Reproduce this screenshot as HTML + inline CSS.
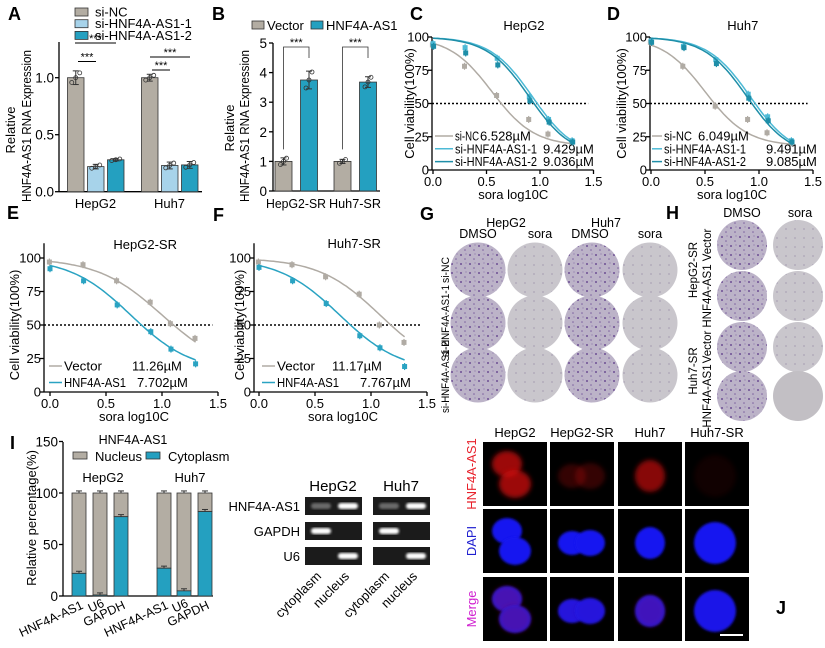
<!DOCTYPE html>
<html><head><meta charset="utf-8"><style>
html,body{margin:0;padding:0;background:#fff;}
svg{display:block;font-family:"Liberation Sans",Arial,sans-serif;}
</style></head><body>
<svg id="fig" width="825" height="648" viewBox="0 0 825 648" xmlns="http://www.w3.org/2000/svg">
<defs>
<filter id="blur3" x="-50%" y="-50%" width="200%" height="200%"><feGaussianBlur stdDeviation="2.5"/></filter>
<filter id="blur1"><feGaussianBlur stdDeviation="1.2"/></filter>
<pattern id="speck" width="9" height="9" patternUnits="userSpaceOnUse"><rect width="9" height="9" fill="#bcb3c8"/><circle cx="2" cy="3" r="1" fill="#6d4f93"/><circle cx="6" cy="7" r="0.8" fill="#7d62a0"/><circle cx="7" cy="2" r="0.6" fill="#8a74a8"/></pattern>
<pattern id="speck2" width="9" height="9" patternUnits="userSpaceOnUse"><rect width="9" height="9" fill="#c9c6cc"/><circle cx="3" cy="4" r="0.6" fill="#8d80a0"/></pattern>
</defs>
</svg>
<script>
// ---------- data ----------
const aGroups = ["HepG2","Huh7"];
const aSeries = ["si-NC","si-HNF4A-AS1-1","si-HNF4A-AS1-2"];
const aValues = [[1.0,0.22,0.28],[1.0,0.23,0.235]];
const aErr = [[0.06,0.02,0.01],[0.03,0.03,0.03]];
const aTicks = [0.0,0.5,1.0];

const bGroups = ["HepG2-SR","Huh7-SR"];
const bSeries = ["Vector","HNF4A-AS1"];
const bValues = [[1.0,3.75],[1.0,3.68]];
const bErr = [[0.12,0.3],[0.07,0.18]];
const bTicks = [0,1,2,3,4,5];

const doseX = [0,0.3,0.6,0.9,1.08,1.3];
const cGray = [94,78,56,38,27,21];
const cSi1 = [95,92,84,55,38,22];
const cSi2 = [93,88,79,52,36,21];
const dGray = [96,78,48,38,28,20];
const dSi1 = [97,93,83,57,40,22];
const dSi2 = [96,92,80,54,37,21];
const eVector = [97,95,83,67,51,40];
const eHNF = [92,83,65,45,32,21];
const fVector = [97,95,86,73,50,37];
const fHNF = [93,83,66,42,33,19];
const vTicks = [0,25,50,75,100];
const xTicks = [0.0,0.5,1.0,1.5];

const iCats = ["HNF4A-AS1","U6","GAPDH","HNF4A-AS1","U6","GAPDH"];
const iCyto = [22,1,77,27,5,82];
const iTicks = [0,50,100,150];

const S = document.getElementById('fig');
const NS = "http://www.w3.org/2000/svg";
const GRAY="#b3ada3", LBLUE="#a7d3ea", TEAL="#24a0c0";
function mk(tag, attrs, txt){const e=document.createElementNS(NS,tag);for(const k in attrs)e.setAttribute(k,attrs[k]);if(txt!==undefined)e.textContent=txt;S.appendChild(e);return e;}
function line(x1,y1,x2,y2,c,w,dash){return mk('line',{x1,y1,x2,y2,stroke:c||'#000','stroke-width':w||1.3,'stroke-dasharray':dash||'none'});}
function text(x,y,s,size,anchor,extra){const a={x,y,'font-size':size||12,'text-anchor':anchor||'start',fill:'#000'};if(extra)for(const k in extra)a[k]=extra[k];return mk('text',a,s);}
function fmt(v,d){return v.toFixed(d);}

[["A",8,20],["B",212,20],["C",410,20],["D",607,20],["E",7,219],["F",213,221],["G",420,220],["H",666,219],["I",10,449],["J",776,614]].forEach(p=>{
  const t=text(p[1],p[2],p[0],18,'start',{'font-weight':'bold'});
  
  
});

// ---------- Panel A ----------
(function(){
  const yA=v=>191.7-v*114, ax=59;
  let l=line(ax,42,ax,192);  
  l=line(ax,191.7,202,191.7);  
  aTicks.forEach(t=>{line(ax-4,yA(t),ax,yA(t));const tt=text(ax-5,yA(t)+5,fmt(t,1),13.5,'end');});
  const cols=[GRAY,LBLUE,TEAL];
  const starts=[67.5,141.5];
  aGroups.forEach((g,gi)=>{
    aSeries.forEach((s,si)=>{
      const x=starts[gi]+si*20, v=aValues[gi][si], w=16.5;
      const r=mk('rect',{x,y:yA(v),width:w,height:yA(0)-yA(v),fill:cols[si],stroke:'#333','stroke-width':0.8});
      
      
      const cx=x+w/2,e=aErr[gi][si];
      line(cx,yA(v+e),cx,yA(v-e),'#333',1);line(cx-3,yA(v+e),cx+3,yA(v+e),'#333',1);line(cx-3,yA(v-e),cx+3,yA(v-e),'#333',1);
      [-4,0,4].forEach((dx,k)=>mk('circle',{cx:cx+dx,cy:yA(v+(k-1)*e*0.7),r:2,fill:'none',stroke:'#333','stroke-width':0.8}));
    });
    const gt=text(starts[gi]+28,208,g,13,'middle');
  });
  [[75,116,43],[78,96,61.5],[150,190,57],[152,170,70]].forEach(s=>{line(s[0],s[2],s[1],s[2],'#000',1);const t=text((s[0]+s[1])/2,s[2]-1,'***',11,'middle');});
  const yt=text(0,0,'Relative',13,'middle',{transform:'translate(15,130) rotate(-90)'});
  const yt2=text(0,0,'HNF4A-AS1 RNA Expression',13,'middle',{transform:'translate(31,126) rotate(-90)',textLength:152,lengthAdjust:'spacingAndGlyphs'});
  aSeries.forEach((s,si)=>{const y=12+si*11.7;const r=mk('rect',{x:75,y:y-4,width:13,height:8,fill:cols[si],stroke:'#333','stroke-width':0.8});const t=text(95,y+4.5,s,13);});
})();

// ---------- Panel B ----------
(function(){
  const yB=v=>191-v*29.6, ax=273;
  let l=line(ax,43,ax,191.5);
  l=line(ax,191,380,191);
  bTicks.forEach(t=>{line(ax-4,yB(t),ax,yB(t));const tt=text(ax-6,yB(t)+5,String(t),13.5,'end');});
  const cols=[GRAY,TEAL],starts=[275,334];
  bGroups.forEach((g,gi)=>{
    bSeries.forEach((s,si)=>{
      const x=starts[gi]+si*25.5,v=bValues[gi][si],w=17;
      const r=mk('rect',{x,y:yB(v),width:w,height:yB(0)-yB(v),fill:cols[si],stroke:'#333','stroke-width':0.8});
      
      
      const cx=x+w/2,e=bErr[gi][si];
      line(cx,yB(v+e),cx,yB(v-e),'#333',1);line(cx-3,yB(v+e),cx+3,yB(v+e),'#333',1);line(cx-3,yB(v-e),cx+3,yB(v-e),'#333',1);
      [-3,0,3].forEach((dx,k)=>mk('circle',{cx:cx+dx,cy:yB(v+(k-1)*e*0.9),r:2,fill:'none',stroke:'#333','stroke-width':0.8}));
    });
    const x1=starts[gi]+8.5,x2=starts[gi]+34;
    const br=mk('path',{d:`M${x1},${yB(bValues[gi][0])-12}V47H${x2}V58`,fill:'none',stroke:'#333','stroke-width':0.8});
    const st=text((x1+x2)/2,46,'***',11,'middle');
    const gt=text(starts[gi]+21,208,g,13,'middle',{textLength:gi?52:60,lengthAdjust:'spacingAndGlyphs'});
  });
  const yt=text(0,0,'Relative',13,'middle',{transform:'translate(234,128) rotate(-90)'});
  const yt2=text(0,0,'HNF4A-AS1 RNA Expression',13,'middle',{transform:'translate(249,126) rotate(-90)',textLength:152,lengthAdjust:'spacingAndGlyphs'});
  [[252,'Vector',GRAY],[311,'HNF4A-AS1',TEAL]].forEach(p=>{const r=mk('rect',{x:p[0],y:21,width:12,height:8,fill:p[2],stroke:'#333','stroke-width':0.8});const t=text(p[0]+15,30,p[1],13);});
})();

// ---------- dose-response panels ----------
function curvePanel(o){
  const X=v=>o.x0+v*o.unit, Y=v=>o.y0-(o.y0-o.y100)*v/100;
  let l=line(o.ax,Y(o.ymax),o.ax,o.y0+0.5);
  l=line(o.ax,o.y0,X(1.5),o.y0);
  vTicks.forEach(t=>{line(o.ax-4,Y(t),o.ax,Y(t));const tt=text(o.ax-3,Y(t)+4.5,String(t),13,'end');});
  xTicks.forEach(t=>{line(X(t),o.y0,X(t),o.y0+4);const tt=text(X(t),o.y0+16,fmt(t,1),13,'middle');});
  const dl=line(o.ax,Y(50),X(1.45),Y(50),'#000',1.6,'2,2');
  const tt=text(X(0.85),o.titleY,o.title,13,'middle');
  const xt=text(X(0.75),o.y0+29,'sora  log10C',13,'middle');
  const yt=text(0,0,'Cell viability(100%)',13,'middle',{transform:`translate(${o.yTitleX},${Y(50)}) rotate(-90)`});
  o.series.forEach((s,si)=>{
    let d='';for(let i=0;i<=60;i++){const xv=1.3*i/60;const yv=s.bot+(100-s.bot)/(1+Math.pow(10,(xv-s.x50)*s.h));d+=(i?'L':'M')+X(xv).toFixed(1)+','+Y(yv).toFixed(1);}
    const p=mk('path',{d,fill:'none',stroke:s.c,'stroke-width':1.5});
    s.vals.forEach((v,i)=>{
      const cx=X(doseX[i])+(si-1)*0.6, cy=Y(v);
      line(cx,cy-3.5,cx,cy+3.5,s.c,1.2);
      const m=mk('rect',{x:cx-2.5,y:cy-2.5,width:5,height:5,fill:s.c});
    });
    const ly=o.legY+si*o.legDy;
    line(o.legX,ly,o.legX+o.legW,ly,s.c,1.5);
    const lt=text(o.legX+o.legW+2,ly+4.5,s.name,13,'start',{textLength:s.tl,lengthAdjust:'spacingAndGlyphs'});
    const lv=text(s.vx,ly+4.5,s.ic,13);
  });
}
curvePanel({id:'c',ax:432,x0:433,unit:107,y0:170,y100:37,ymax:100,title:'HepG2',titleY:30,yTitleX:414,legX:435,legW:18,legY:136,legDy:12.8,
  series:[{name:'si-NC',tl:24,ic:'6.528\u00b5M',vx:480,vals:cGray,c:'#b0aba4',x50:0.55,h:2.2,bot:18},
          {name:'si-HNF4A-AS1-1',tl:82,ic:'9.429\u00b5M',vx:543,vals:cSi1,c:'#4dbad6',x50:0.93,h:2.2,bot:10},
          {name:'si-HNF4A-AS1-2',tl:82,ic:'9.036\u00b5M',vx:543,vals:cSi2,c:'#1e8ea8',x50:0.9,h:2.2,bot:10}]});
curvePanel({id:'d',ax:650,x0:651,unit:108,y0:170,y100:37,ymax:100,title:'Huh7',titleY:30,yTitleX:626,legX:652,legW:10,legY:136,legDy:12.8,
  series:[{name:'si-NC',tl:28,ic:'6.049\u00b5M',vx:698,vals:dGray,c:'#b0aba4',x50:0.5,h:2.2,bot:18},
          {name:'si-HNF4A-AS1-1',tl:82,ic:'9.491\u00b5M',vx:766,vals:dSi1,c:'#4dbad6',x50:0.92,h:2.2,bot:10},
          {name:'si-HNF4A-AS1-2',tl:82,ic:'9.085\u00b5M',vx:766,vals:dSi2,c:'#1e8ea8',x50:0.89,h:2.2,bot:10}]});
curvePanel({id:'e',ax:44,x0:50,unit:112,y0:392,y100:258,ymax:111,title:'HepG2-SR',titleY:249,yTitleX:19,legX:49,legW:13,legY:366,legDy:16.5,
  series:[{name:'Vector',tl:38,ic:'11.26\u00b5M',vx:132,vals:eVector,c:'#b0aba4',x50:1.0,h:1.5,bot:15},
          {name:'HNF4A-AS1',tl:62,ic:'7.702\u00b5M',vx:137,vals:eHNF,c:'#2aa3c2',x50:0.72,h:1.6,bot:15}]});
curvePanel({id:'f',ax:254,x0:259,unit:112,y0:392,y100:258,ymax:111,title:'Huh7-SR',titleY:248,yTitleX:244,legX:262,legW:13,legY:366,legDy:16.5,
  series:[{name:'Vector',tl:38,ic:'11.17\u00b5M',vx:332,vals:fVector,c:'#b0aba4',x50:1.08,h:1.6,bot:15},
          {name:'HNF4A-AS1',tl:62,ic:'7.767\u00b5M',vx:360,vals:fHNF,c:'#2aa3c2',x50:0.72,h:1.6,bot:15}]});

// ---------- Panel G ----------
(function(){
  const gx=[478,535,592,650], gy=[270,323,375];
  gy.forEach((y,ri)=>gx.forEach((x,ci)=>{
    const dmso=ci%2==0;
    const c=mk('circle',{cx:x,cy:y,r:27.5,fill:dmso?'url(#speck)':'url(#speck2)'});
    
    
  }));
  [['HepG2',506,227],['DMSO',478,238],['sora',540,238],['Huh7',606,227],['DMSO',590,238],['sora',650,238]].forEach(p=>{const t=text(p[1],p[2],p[0],12.5,'middle');});
  [['si-NC',270,26],['si-HNF4A-AS1-1',321,72],['si-HNF4A-AS1-2',377,72]].forEach(p=>{const t=text(0,0,p[0],11,'middle',{transform:`translate(449,${p[1]}) rotate(-90)`,textLength:p[2],lengthAdjust:'spacingAndGlyphs'});});
})();

// ---------- Panel H ----------
(function(){
  const hx=[742,798], hy=[245,296,347,396];
  hy.forEach((y,ri)=>hx.forEach((x,ci)=>{
    const c=mk('circle',{cx:x,cy:y,r:25,fill:ci==0?'url(#speck)':(ri==3?'#c2bfc4':'url(#speck2)')});
    
    
  }));
  [['DMSO',742,217],['sora',800,217]].forEach(p=>{const t=text(p[1],p[2],p[0],12.5,'middle');});
  [['HepG2-SR',697,270],['Vector',711,245],['HNF4A-AS1',711,296],['Huh7-SR',697,371],['Vector',711,347],['HNF4A-AS1',711,396]].forEach(p=>{const t=text(0,0,p[0],11.5,'middle',{transform:`translate(${p[1]},${p[2]}) rotate(-90)`});});
})();

// ---------- Panel I ----------
(function(){
  const yI=v=>596-v*1.03, ax=63;
  let l=line(ax,442,ax,596.5);
  l=line(ax,596,213,596);
  iTicks.forEach(t=>{line(ax-4,yI(t),ax,yI(t));const tt=text(ax-5,yI(t)+5,String(t),13.5,'end');});
  const xs=[72,93,114,157,177,198];
  iCats.forEach((c,i)=>{
    const x=xs[i],w=14,v=iCyto[i];
    const n=mk('rect',{x,y:yI(100),width:w,height:yI(v)-yI(100),fill:GRAY,stroke:'#333','stroke-width':0.8});
    const cy=mk('rect',{x,y:yI(v),width:w,height:yI(0)-yI(v),fill:TEAL,stroke:'#333','stroke-width':0.8});
    line(x+w/2,yI(100),x+w/2,yI(102),'#333',1);line(x+4,yI(102),x+w-4,yI(102),'#333',1);
    line(x+w/2,yI(v),x+w/2,yI(v+2),'#333',1);line(x+4,yI(v+2),x+w-4,yI(v+2),'#333',1);
    const t=text(0,0,c,12.5,'end',{transform:`translate(${x+w/2+5},${(i%3==1)?606:608}) rotate(-25)`});
  });
  const tt=text(133,444,'HNF4A-AS1',12.5,'middle');
  [[73,'Nucleus',GRAY],[146,'Cytoplasm',TEAL]].forEach(p=>{const r=mk('rect',{x:p[0],y:452,width:14,height:7,fill:p[2],stroke:'#333','stroke-width':0.8});const t=text(p[0]+22,461,p[1],13);});
  [['HepG2',103,482],['Huh7',190,482]].forEach(p=>{const t=text(p[1],p[2],p[0],13,'middle');});
  const yt=text(0,0,'Relative percentage(%)',13,'middle',{transform:'translate(36,518) rotate(-90)'});
})();

// ---------- Gel ----------
(function(){
  const boxes=[305,373], rows=[[497,'HNF4A-AS1',[0.35,1]],[522,'GAPDH',[1,0]],[547,'U6',[0,1]]];
  [['HepG2',333],['Huh7',401]].forEach(p=>{const t=text(p[1],491,p[0],15,'middle');});
  rows.forEach(r=>{
    const t=text(300,r[0]+14,r[1],13,'end');
    boxes.forEach(bx=>{
      const b=mk('rect',{x:bx,y:r[0],width:57,height:18,fill:'#1b1b1b'});
      r[2].forEach((iv,k)=>{if(iv>0){const band=mk('rect',{x:bx+6+k*27,y:r[0]+6,width:20,height:6,rx:3,fill:'#fff',opacity:iv,filter:'url(#blur1)'});}});
    });
  });
  [[322,'cytoplasm'],[350,'nucleus'],[390,'cytoplasm'],[418,'nucleus']].forEach(p=>{const t=text(0,0,p[1],13,'end',{transform:`translate(${p[0]},577) rotate(-45)`});});
})();

// ---------- Panel J ----------
(function(){
  const cx=[483,550,618,685], ry=[442,509,577], w=64, h=64;
  const cols=['HepG2','HepG2-SR','Huh7','Huh7-SR'];
  cols.forEach((c,i)=>{const t=text(cx[i]+32,437,c,13,'middle');});
  const shapes=[[[20,22,14,12],[28,42,15,13]],[[22,34,13,11],[40,34,14,12]],[[32,34,14,15]],[[30,34,20,20]]];
  const red=[0.75,0.25,0.65,0.08];
  ry.forEach((y,ri)=>cx.forEach((x,ci)=>{
    const b=mk('rect',{x,y,width:w,height:h,fill:'#000'});
    shapes[ci].forEach(s=>{
      if(ri!==0){const e=mk('ellipse',{cx:x+s[0]+(ci==0?4:0),cy:y+s[1],rx:s[2]+1,ry:s[3]+1,fill:'#1717f0',filter:'url(#blur1)'});}
      if(ri!==1){const e=mk('ellipse',{cx:x+s[0]+(ci==0?4:0),cy:y+s[1],rx:s[2]+1,ry:s[3]+1,fill:'#d01010',opacity:red[ci]*(ri==2?0.35:1),filter:'url(#blur3)'});}
    });
  }));
  [['HNF4A-AS1','#e8202a',474],['DAPI','#2020d0',541],['Merge','#d020d0',609]].forEach(p=>{const t=text(0,0,p[0],13,'middle',{fill:p[1],transform:`translate(476,${p[2]}) rotate(-90)`});});
  const sb=line(720,635,743,635,'#fff',2);
})();
</script>
</body></html>
